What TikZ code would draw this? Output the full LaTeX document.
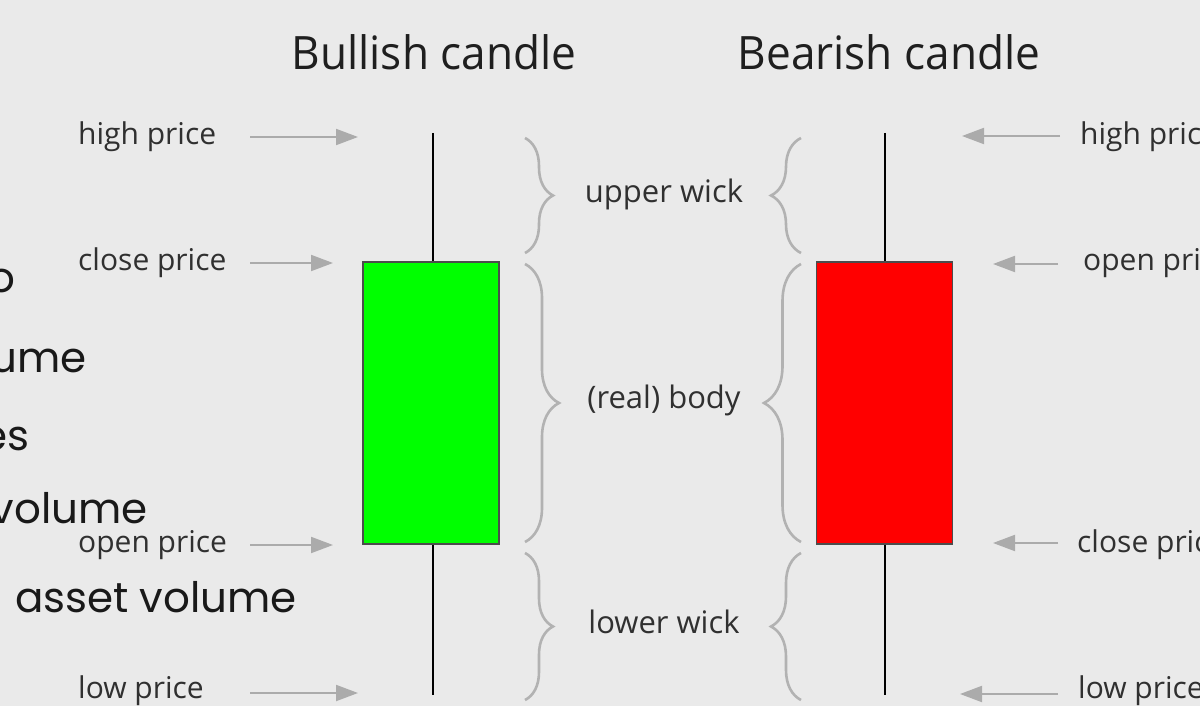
\documentclass[tikz,border=0pt]{standalone}
\usepackage{fontspec}
\setmainfont{Open Sans}
\newfontfamily\popp{Poppins}
\usetikzlibrary{arrows.meta,decorations.pathreplacing}
\definecolor{bgc}{HTML}{EAEAEA}
\definecolor{arrc}{HTML}{ABABAB}
\definecolor{bracec}{HTML}{B2B2B2}
\definecolor{labc}{HTML}{303030}
\definecolor{bull}{HTML}{00FF00}
\definecolor{bear}{HTML}{FF0000}
\tikzset{
  title/.style={font=\fontsize{46}{50}\selectfont, text=black!88, inner sep=0pt, anchor=base},
  lab/.style={font=\fontsize{30}{33}\selectfont, text=labc, inner sep=0pt},
  mid/.style={font=\fontsize{31}{34}\selectfont, text=labc, inner sep=0pt, anchor=base},
  over/.style={font=\popp\fontsize{42}{46}\selectfont, text=black!90, inner sep=0pt, anchor=base east},
  arr/.style={draw=arrc, line width=2pt, -{Triangle[length=22pt,width=16pt]}},
  wick/.style={draw=black, line width=2.2pt},
  body/.style={draw=black!70, line width=1.5pt, minimum width=136pt, minimum height=282pt, inner sep=0pt},
  brc/.style={draw=bracec, line width=2.6pt, decorate, decoration={brace, amplitude=#1}},
}
\begin{document}
\begin{tikzpicture}[x=1pt,y=-1pt]
\fill[bgc] (0,0) rectangle (1200,706);
\useasboundingbox (0,0) rectangle (1200,706);
\clip (0,0) rectangle (1200,706);

% titles
\node[title] (tbull) at (434,70) {\scalebox{0.96}[1]{Bullish candle}};
\node[title] (tbear) at (889,70) {\scalebox{0.96}[1]{Bearish candle}};

% overlaid partial text on the left
\node[over] (o1) at (16,292) {o};
\node[over] (o2) at (87,372) {ume};
\node[over] (o3) at (30,450) {es};
\node[over] (o4) at (148,523) {volume};
\node[over] (o5) at (297,612) {asset volume};

% bullish candle
\node[body, fill=bull] (gbody) at (431,403) {};
\coordinate (ghigh) at (433,133);
\coordinate (glow) at (433,695);
\draw[wick] (ghigh) -- (ghigh |- gbody.north);
\draw[wick] (glow |- gbody.south) -- (glow);

% bearish candle
\node[body, fill=bear] (rbody) at (884.5,403) {};
\coordinate (rhigh) at (885,133);
\coordinate (rlow) at (885,695);
\draw[wick] (rhigh) -- (rhigh |- rbody.north);
\draw[wick] (rlow |- rbody.south) -- (rlow);

% left labels
\node[lab, anchor=base west] (lhp) at (78,145) {high price};
\node[lab, anchor=base west] (lcp) at (78,270) {close price};
\node[lab, anchor=base west] (lop) at (78,552) {open price};
\node[lab, anchor=base west] (llp) at (78,698) {low price};
\coordinate (lhpS) at (250,137); \coordinate (lhpE) at (358,137);
\coordinate (lcpS) at (250,263); \coordinate (lcpE) at (333,263);
\coordinate (lopS) at (250,545); \coordinate (lopE) at (333,545);
\coordinate (llpS) at (250,693); \coordinate (llpE) at (358,693);
\draw[arr] (lhpS) -- (lhpE);
\draw[arr] (lcpS) -- (lcpE);
\draw[arr] (lopS) -- (lopE);
\draw[arr] (llpS) -- (llpE);

% right labels
\node[lab, anchor=base west] (rhp) at (1080,145) {high price};
\node[lab, anchor=base west] (rop) at (1083,270) {open price};
\node[lab, anchor=base west] (rcp) at (1077,552) {close price};
\node[lab, anchor=base west] (rlp) at (1078,698) {low price};
\coordinate (rhpS) at (1060,136); \coordinate (rhpE) at (962,136);
\coordinate (ropS) at (1058,264); \coordinate (ropE) at (993,264);
\coordinate (rcpS) at (1058,543); \coordinate (rcpE) at (993,543);
\coordinate (rlpS) at (1058,694); \coordinate (rlpE) at (960,694);
\draw[arr] (rhpS) -- (rhpE);
\draw[arr] (ropS) -- (ropE);
\draw[arr] (rcpS) -- (rcpE);
\draw[arr] (rlpS) -- (rlpE);

% middle labels
\node[mid] (mup) at (664,203) {upper wick};
\node[mid] (mbody) at (664,408) {(real) body};
\node[mid] (mlow) at (664,633) {lower wick};

% braces
\coordinate (b1a) at (525,138); \coordinate (b1b) at (525,253);
\coordinate (b2a) at (525,264); \coordinate (b2b) at (525,542);
\coordinate (b3a) at (525,553); \coordinate (b3b) at (525,700);
\draw[brc=28pt] (b1a) -- (b1b);
\draw[brc=34pt] (b2a) -- (b2b);
\draw[brc=28pt] (b3a) -- (b3b);
\coordinate (c1a) at (801,138); \coordinate (c1b) at (801,253);
\coordinate (c2a) at (801,264); \coordinate (c2b) at (801,542);
\coordinate (c3a) at (801,553); \coordinate (c3b) at (801,700);
\draw[brc=30pt] (c1b) -- (c1a);
\draw[brc=37pt] (c2b) -- (c2a);
\draw[brc=30pt] (c3b) -- (c3a);
\end{tikzpicture}
\end{document}
